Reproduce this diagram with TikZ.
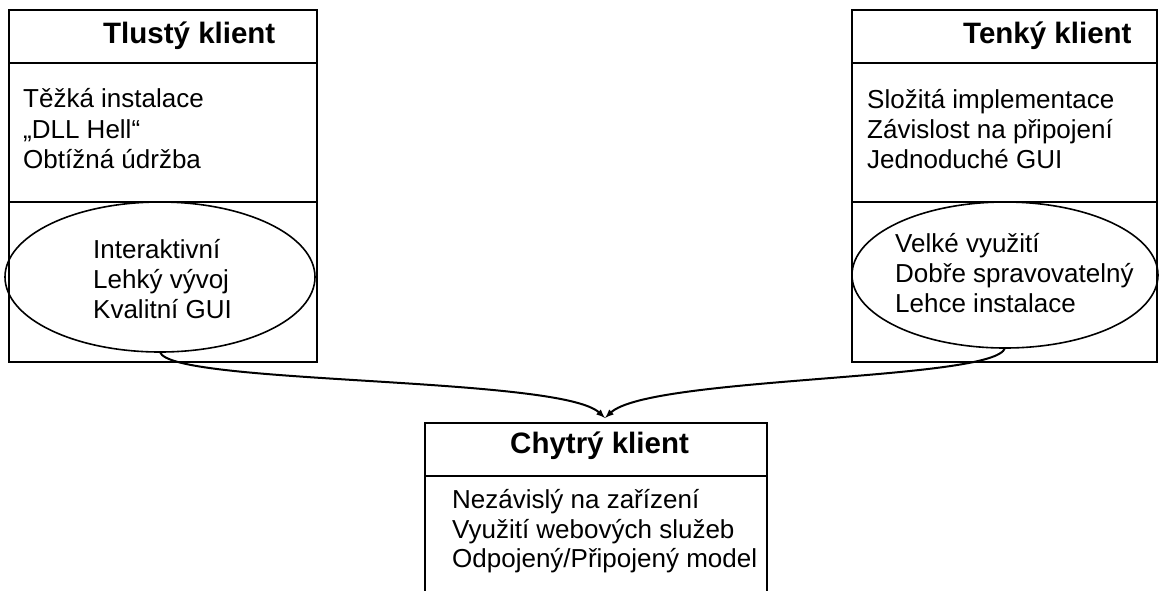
\documentclass[tikz,border=0pt]{standalone}
\usepackage{fontspec}
\setmainfont{Liberation Sans}
\usetikzlibrary{shapes,arrows,positioning}

\begin{document}
\begin{tikzpicture}
                [
                    x=1pt, y=-1pt,
                    headbox/.style={rectangle, draw=black, line width=2pt, outer sep=0pt, minimum height=53pt},
                    listbox/.style={rectangle, draw=black, line width=2pt, outer sep=0pt},
                    ovalnode/.style={ellipse, draw=black, line width=1.6pt, inner sep=0pt, outer sep=0pt},
                    titletext/.style={anchor=base west, inner sep=0pt, font=\fontsize{29.5}{34}\selectfont\bfseries},
                    itemtext/.style={anchor=base west, inner sep=0pt, font=\fontsize{26}{30}\selectfont},
                ]

                \useasboundingbox (0,0) rectangle (1159,590);

                % tlusty klient
                \node [headbox, minimum width=308pt, anchor=north west] (thickhead) at (9,10) {};
                \node [listbox, minimum width=308pt, minimum height=139pt] (thicklist) [below=0pt of thickhead] {};
                \node [listbox, minimum width=308pt, minimum height=160pt] (thickpros) [below=0pt of thicklist] {};
                \node [ovalnode, minimum width=310pt, minimum height=150pt] (thickoval) at (160,277) {};
                \node [titletext] (thicktitle) at (103,43) {Tlustý klient};
                \node [itemtext] (thickcon1) at (23,107) {Těžká instalace};
                \node [itemtext] (thickcon2) at (23,138) {„DLL Hell“};
                \node [itemtext] (thickcon3) at (23,168) {Obtížná údržba};
                \node [itemtext] (thickpro1) at (93,258) {Interaktivní};
                \node [itemtext] (thickpro2) at (93,288) {Lehký vývoj};
                \node [itemtext] (thickpro3) at (93,318) {Kvalitní GUI};

                % tenky klient
                \node [headbox, minimum width=305pt, anchor=north west] (thinhead) at (852,10) {};
                \node [listbox, minimum width=305pt, minimum height=139pt] (thinlist) [below=0pt of thinhead] {};
                \node [listbox, minimum width=305pt, minimum height=160pt] (thinpros) [below=0pt of thinlist] {};
                \node [ovalnode, minimum width=306pt, minimum height=146pt] (thinoval) at (1005,275) {};
                \node [titletext] (thintitle) at (963,43) {Tenký klient};
                \node [itemtext] (thincon1) at (867,108) {Složitá implementace};
                \node [itemtext] (thincon2) at (867,138) {Závislost na připojení};
                \node [itemtext] (thincon3) at (867,168) {Jednoduché GUI};
                \node [itemtext] (thinpro1) at (895,252) {Velké využití};
                \node [itemtext] (thinpro2) at (895,282) {Dobře spravovatelný};
                \node [itemtext] (thinpro3) at (895,312) {Lehce instalace};

                % chytry klient
                \node [headbox, minimum width=342pt, anchor=north west] (smarthead) at (425,423) {};
                \node [listbox, minimum width=342pt, minimum height=130pt] (smartlist) [below=0pt of smarthead] {};
                \node [titletext] (smarttitle) at (510,453) {Chytrý klient};
                \node [itemtext] (smartitem1) at (452,508) {Nezávislý na zařízení};
                \node [itemtext] (smartitem2) at (452,538) {Využití webových služeb};
                \node [itemtext] (smartitem3) at (452,567) {Odpojený/Připojený model};

                \coordinate (meet) at (605,418);
                \draw[-latex, line width=2pt] (thickoval.south) .. controls +(10,33) and +(-45,-42) .. (meet);
                \draw[-latex, line width=2pt] (thinoval.south) .. controls +(-10,33) and +(45,-42) .. (meet);

            \end{tikzpicture}
\end{document}
